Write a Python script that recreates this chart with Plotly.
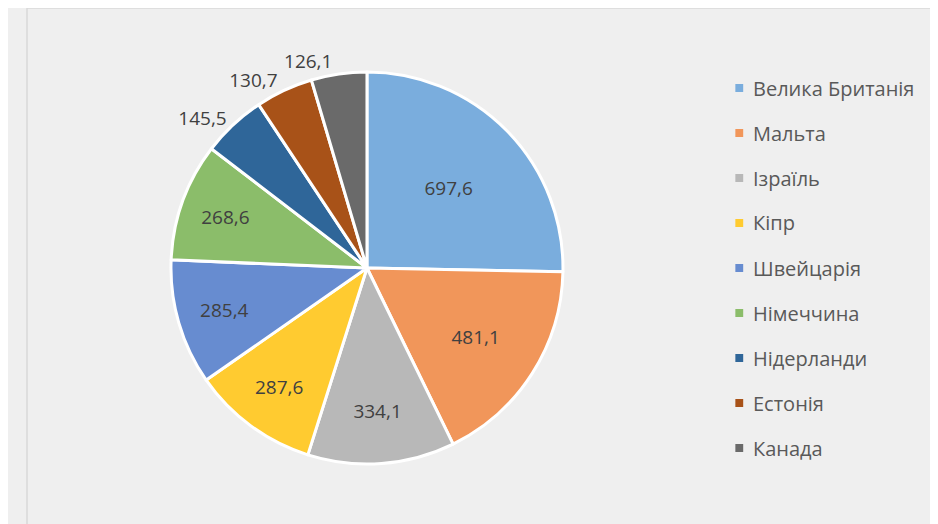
import plotly.graph_objects as go

categories = ["Велика Британія", "Мальта", "Ізраїль", "Кіпр", "Швейцарія",
              "Німеччина", "Нідерланди", "Естонія", "Канада"]
values = [697.6, 481.1, 334.1, 287.6, 285.4, 268.6, 145.5, 130.7, 126.1]
colors = ["#7AADDD", "#F1965A", "#B8B8B8", "#FFCB30", "#678CD0",
          "#8BBD6A", "#2F6699", "#A85218", "#6A6A6A"]
text_pos = ["inside"] * 6 + ["outside"] * 3

labels_txt = [f"{v:.1f}".replace(".", ",") for v in values]

W, H, OFF_X, OFF_Y = 938, 524, 18, 8


def px(x):
    return (x - OFF_X) / W


def py(y):
    return 1 - (y - OFF_Y) / H


cx, cy, r = 365, 268, 196
dom = dict(x=[px(cx) - 0.3, px(cx) + 0.3], y=[py(cy + r), py(cy - r)])
font = dict(family="Open Sans", size=19, color="#404040")

# last slice label is drawn by an overlay pie so it is not pushed by its neighbour
main_text = labels_txt[:-1] + [""]
main_pos = text_pos[:-1] + ["none"]
over_text = [""] * (len(values) - 1) + [labels_txt[-1]]
over_pos = ["none"] * (len(values) - 1) + ["outside"]

fig = go.Figure()
fig.add_trace(go.Pie(
    labels=categories, values=values, text=main_text,
    texttemplate="%{text}", textposition=main_pos,
    insidetextorientation="horizontal",
    sort=False, direction="clockwise", rotation=0,
    marker=dict(colors=colors, line=dict(color="white", width=3)),
    textfont=font, domain=dom,
    showlegend=False, hoverinfo="label+value",
))
fig.add_trace(go.Pie(
    labels=categories, values=values, text=over_text,
    texttemplate="%{text}", textposition=over_pos,
    sort=False, direction="clockwise", rotation=0,
    marker=dict(colors=["rgba(0,0,0,0)"] * len(values), line=dict(width=0)),
    textfont=font, domain=dom,
    showlegend=False, hoverinfo="skip",
))

# legend drawn manually
y0, step = 88, 45
shapes, annots = [], []
for i, (c, col) in enumerate(zip(categories, colors)):
    yc = y0 + i * step
    shapes.append(dict(type="rect", xref="paper", yref="paper",
                       x0=px(737 + 4), x1=px(745 + 4),
                       y0=py(yc + 4), y1=py(yc - 4),
                       fillcolor=col, line=dict(width=0)))
    annots.append(dict(x=px(753 + 4), y=py(yc), xref="paper", yref="paper",
                       text=c, showarrow=False, xanchor="left", yanchor="middle",
                       font=dict(family="Open Sans", size=20, color="#595959")))

shapes.append(dict(type="rect", xref="paper", yref="paper", x0=0, x1=1, y0=0, y1=1.0,
                   line=dict(color="#d9d9d9", width=1.5), layer="below"))

fig.update_layout(
    width=W, height=H,
    margin=dict(l=0, r=0, t=0, b=0),
    paper_bgcolor="#efefef", plot_bgcolor="#efefef",
    shapes=shapes, annotations=annots,
)
fig.write_html("out.html")
